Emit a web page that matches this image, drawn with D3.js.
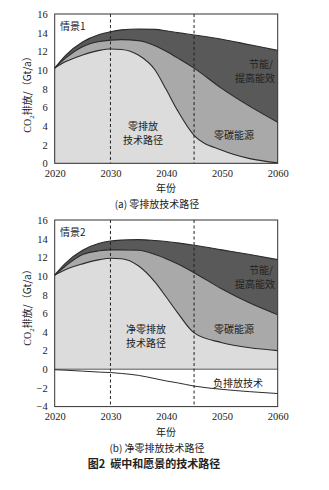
<!DOCTYPE html>
<html><head><meta charset="utf-8">
<script src="https://cdn.jsdelivr.net/npm/d3@7"></script>
<style>
html,body{margin:0;padding:0;background:#fff;}
svg{display:block;}
</style></head>
<body>
<svg id="c" width="329" height="490"></svg>
<script>
// ---------- data ----------
const years = [2020,2022,2025,2028,2030,2032,2035,2038,2040,2042,2045,2050,2055,2060];
// Scenario 1 (zero emission)
const s1Total  = [10.2,11.6,13.0,13.8,14.1,14.3,14.4,14.35,14.2,14.0,13.75,13.3,12.7,12.1];
const s1Carbon = [10.2,11.3,12.5,13.05,13.2,13.25,13.15,12.6,12.0,11.3,10.2,8.0,6.1,4.4];
const s1Tech   = [10.2,10.9,11.6,12.1,12.25,12.2,11.6,10.0,7.9,5.7,3.0,1.4,0.5,0.05];
// Scenario 2 (net zero emission)
const s2Total  = [10.1,11.4,12.75,13.5,13.75,13.85,13.9,13.8,13.7,13.55,13.3,12.8,12.3,11.75];
const s2Carbon = [10.1,11.1,12.3,12.7,12.8,12.8,12.75,12.3,11.85,11.3,10.35,8.6,7.1,5.85];
const s2Tech   = [10.1,10.7,11.3,11.75,11.9,11.85,11.1,9.35,7.75,6.1,3.9,2.85,2.3,2.0];
const s2Neg    = [-0.05,-0.1,-0.2,-0.3,-0.35,-0.45,-0.65,-1.0,-1.25,-1.45,-1.8,-2.15,-2.4,-2.6];
const xTicks = [2020,2030,2040,2050,2060];
const yTicks1 = [0,2,4,6,8,10,12,14,16];
const yTicks2 = [-4,-2,0,2,4,6,8,10,12,14,16];
const markYears = [2030,2045];

const C_DARK = "#595959", C_MID = "#a9a9a9", C_LIGHT = "#dcdcdc", C_LINE = "#2b2b2b";
const serif = "'Liberation Serif','DejaVu Serif',serif";
const cjk = "'Noto Sans CJK SC','Liberation Serif',sans-serif";

const svg = d3.select("#c");

function panel(opt){
  const x = d3.scaleLinear().domain([2020,2060]).range([54.7,277.7]);
  const y = d3.scaleLinear().domain(opt.ydom).range([opt.bottom, opt.top]);
  const g = svg.append("g");
  const base = opt.ydom[0] < 0 ? 0 : opt.ydom[0];
  const curve = d3.curveMonotoneX;
  const area = (vals) => d3.area().x((d,i)=>x(years[i])).y0(y(base)).y1(d=>y(d)).curve(curve)(vals);
  const line = (vals) => d3.line().x((d,i)=>x(years[i])).y(d=>y(d)).curve(curve)(vals);
  g.append("path").attr("d",area(opt.total)).attr("fill",C_DARK);
  g.append("path").attr("d",area(opt.carbon)).attr("fill",C_MID);
  g.append("path").attr("d",area(opt.tech)).attr("fill",C_LIGHT);
  [opt.total,opt.carbon,opt.tech].forEach(v=>{
    g.append("path").attr("d",line(v)).attr("fill","none").attr("stroke",C_LINE).attr("stroke-width",1.1);
  });
  if(opt.neg){
    g.append("line").attr("x1",x(2020)).attr("x2",x(2060)).attr("y1",y(0)).attr("y2",y(0))
      .attr("stroke","#8a8a8a").attr("stroke-width",1.6);
    g.append("path").attr("d",line(opt.neg)).attr("fill","none").attr("stroke",C_LINE).attr("stroke-width",1);
  }
  markYears.forEach(yr=>{
    g.append("line").attr("x1",x(yr)).attr("x2",x(yr)).attr("y1",opt.top).attr("y2",opt.bottom)
      .attr("stroke","#222").attr("stroke-width",1).attr("stroke-dasharray","3,2.5");
  });
  // frame
  g.append("rect").attr("x",x(2020)).attr("y",opt.top).attr("width",x(2060)-x(2020)).attr("height",opt.bottom-opt.top)
    .attr("fill","none").attr("stroke","#333").attr("stroke-width",1);
  // axes
  const ya = g.append("g").attr("transform",`translate(${x(2020)},0)`)
    .call(d3.axisLeft(y).tickValues(opt.yticks).tickSize(0).tickPadding(7).tickFormat(d=>d<0?"\u2212"+(-d):d));
  ya.select(".domain").remove();
  ya.selectAll("text").attr("font-family",serif).attr("font-size",10.5).attr("fill","#222");
  const xa = g.append("g").attr("transform",`translate(0,${opt.bottom})`)
    .call(d3.axisBottom(x).tickValues(xTicks).tickSize(0).tickPadding(6).tickFormat(d3.format("d")));
  xa.select(".domain").remove();
  xa.selectAll("text").attr("font-family",serif).attr("font-size",10.5).attr("fill","#222");
  // y label
  const yl = g.append("text").attr("transform",`translate(31,${opt.ylabY}) rotate(-90)`)
    .attr("text-anchor","middle").attr("font-family",cjk).attr("font-size",10).attr("fill","#222");
  yl.append("tspan").attr("font-family",serif).text("CO");
  yl.append("tspan").attr("font-family",serif).attr("font-size",7).attr("dy",2.5).text("2");
  yl.append("tspan").attr("dy",-2.5).text("排放/（Gt/a）");
  // x label & caption
  g.append("text").attr("x",166).attr("y",opt.bottom+29).attr("text-anchor","middle")
    .attr("font-family",cjk).attr("font-size",10).attr("fill","#222").text("年份");
  g.append("text").attr("x",157).attr("y",opt.bottom+45).attr("text-anchor","middle")
    .attr("font-family",cjk).attr("font-size",10).attr("fill","#222").text(opt.caption);
  // labels
  const lab = (t,xx,yy,anchor)=>g.append("text").attr("x",xx).attr("y",yy).attr("text-anchor",anchor||"middle")
    .attr("font-family",cjk).attr("font-size",10).attr("fill","#222").text(t);
  lab(opt.scen,60,opt.top+16,"start");
  lab("节能/",261,opt.top+54);
  lab("提高能效",255,opt.top+68);
  opt.techLab.forEach((t,i)=>lab(t,opt.techX,opt.techY+i*14));
  lab("零碳能源",234,opt.carbonY);
  if(opt.neg) lab("负排放技术",238,opt.negY);
}

panel({ydom:[0,16],top:14,bottom:163.3,total:s1Total,carbon:s1Carbon,tech:s1Tech,yticks:yTicks1,
  ylabY:92,caption:"(a) 零排放技术路径",scen:"情景1",techLab:["零排放","技术路径"],techX:143,techY:130,carbonY:139});
panel({ydom:[-4,16],top:220,bottom:406.6,total:s2Total,carbon:s2Carbon,tech:s2Tech,neg:s2Neg,yticks:yTicks2,
  ylabY:305,caption:"(b) 净零排放技术路径",scen:"情景2",techLab:["净零排放","技术路径"],techX:146,techY:333,carbonY:333,negY:387});

// figure title
svg.append("text").attr("x",154).attr("y",468).attr("text-anchor","middle")
  .attr("font-family","'Noto Sans CJK SC',sans-serif").attr("font-weight","bold").attr("font-size",11).attr("fill","#222")
  .attr("xml:space","preserve").text("图2  碳中和愿景的技术路径");
</script>
</body></html>
